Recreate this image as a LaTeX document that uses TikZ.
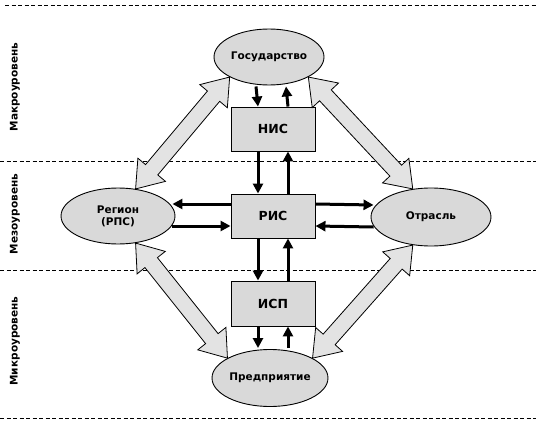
\documentclass[tikz,border=0pt]{standalone}
\usepackage{fontspec}
\setmainfont{DejaVu Sans}
\usetikzlibrary{shapes.geometric,arrows.meta,calc}
\newcommand{\hollowarrow}[2]{%
  \path (#1) coordinate (ba) (#2) coordinate (bb);
  \path ($(ba)!25pt!(bb)$) coordinate (ca) ($(bb)!25pt!(ba)$) coordinate (cb);
  \draw[bigarr] (ba) -- ($(ca)!18pt!90:(bb)$) -- ($(ca)!8pt!90:(bb)$)
    -- ($(cb)!8pt!-90:(ba)$) -- ($(cb)!18pt!-90:(ba)$) -- (bb)
    -- ($(cb)!18pt!90:(ba)$) -- ($(cb)!8pt!90:(ba)$)
    -- ($(ca)!8pt!-90:(bb)$) -- ($(ca)!18pt!-90:(bb)$) -- cycle;
}
\begin{document}
\begin{tikzpicture}[x=1pt,y=-1pt,
  lvl/.style={draw, line width=0.6pt, dash pattern=on 4pt off 2.5pt},
  ell/.style={ellipse, draw, line width=0.9pt, fill=gray!30, inner sep=0pt,
    font=\bfseries\fontsize{10.5}{12}\selectfont, align=center},
  box/.style={rectangle, draw, line width=0.9pt, fill=gray!30, inner sep=0pt,
    minimum width=84pt, minimum height=44pt, font=\bfseries\fontsize{12.5}{14}\selectfont},
  bigarr/.style={draw, line width=0.8pt, fill=gray!22, line join=miter},
  arr/.style={line width=3pt, -{Triangle[length=10pt,width=10pt]}},
  lab/.style={rotate=90, font=\bfseries\fontsize{10.5}{12}\selectfont}]
\useasboundingbox (0,0) rectangle (536,423);

\draw[lvl] (5,5) -- (536,5);
\draw[lvl] (0,161) -- (536,161);
\draw[lvl] (0,270) -- (536,270);
\draw[lvl] (0,418) -- (536,418);

\node[lab] (macro) at (15,87) {Макроуровень};
\node[lab] (meso) at (15,214) {Мезоуровень};
\node[lab] (micro) at (15,341) {Микроуровень};

\node[ell, minimum width=110pt, minimum height=56pt] (gov) at (269,57) {Государство};
\node[ell, minimum width=114pt, minimum height=56pt] (reg) at (118,216) {Регион\\(РПС)};
\node[ell, minimum width=120pt, minimum height=58pt] (otr) at (431,217) {Отрасль};
\node[ell, minimum width=116pt, minimum height=57pt] (pred) at (270,378) {Предприятие};

\node[box] (nis) at (273,129) {НИС};
\node[box] (ris) at (273,216) {РИС};
\node[box, minimum height=45pt] (isp) at (273,303.5) {ИСП};

\hollowarrow{gov.207}{reg.57}
\hollowarrow{gov.333}{otr.123}
\hollowarrow{reg.-57}{pred.155}
\hollowarrow{otr.-123}{pred.25}

\draw[arr] ([xshift=-13pt,yshift=-1pt]gov.south) -- ([xshift=-15pt]nis.north);
\draw[arr] ([xshift=15pt]nis.north) -- ([xshift=17pt,yshift=-1pt]gov.south);
\draw[arr] ([xshift=-15pt]nis.south) -- ([xshift=-15pt]ris.north);
\draw[arr] ([xshift=15pt]ris.north) -- ([xshift=15pt]nis.south);
\draw[arr] ([xshift=-15pt]ris.south) -- ([xshift=-15pt]isp.north);
\draw[arr] ([xshift=15pt]isp.north) -- ([xshift=15pt]ris.south);
\draw[arr] ([xshift=-15pt]isp.south) -- ([xshift=-12pt,yshift=1pt]pred.north);
\draw[arr] ([xshift=18pt,yshift=1pt]pred.north) -- ([xshift=15pt]isp.south);

\draw[arr] ([yshift=12pt]ris.west) -- ([xshift=-3pt,yshift=12pt]reg.east);
\draw[arr] ([xshift=-3pt,yshift=-10pt]reg.east) -- ([yshift=-10pt]ris.west);
\draw[arr] ([yshift=12pt]ris.east) -- ([xshift=3pt,yshift=12pt]otr.west);
\draw[arr] ([xshift=3pt,yshift=-10pt]otr.west) -- ([yshift=-10pt]ris.east);
\end{tikzpicture}
\end{document}
